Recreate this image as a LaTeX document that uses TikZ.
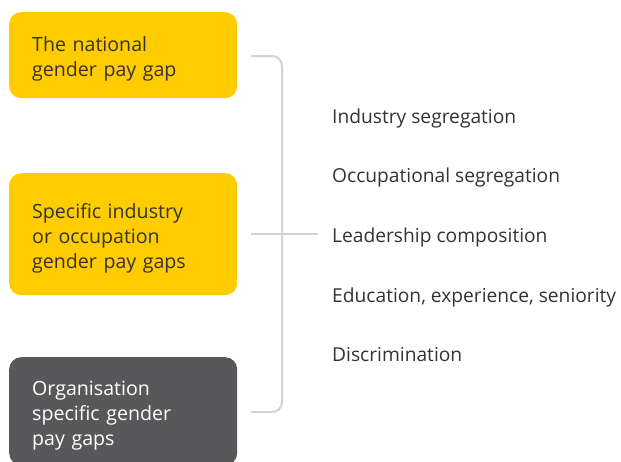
\documentclass[tikz,border=0pt]{standalone}
\usepackage{fontspec}
\setmainfont{Open Sans}
\usepackage{tikz}
\usetikzlibrary{positioning}
\definecolor{gapyellow}{HTML}{FFCC00}
\definecolor{gapgrey}{HTML}{58585A}
\definecolor{gaptext}{HTML}{333333}
\definecolor{gapline}{HTML}{D3D3D3}
\tikzset{
  gapbox/.style={rounded corners=12pt, minimum width=228pt, text width=182pt,
    align=left, inner xsep=23pt, anchor=north west,
    font=\fontsize{19.6}{25}\selectfont,
    execute at begin node={\rule{0pt}{23pt}}},
  factor/.style={anchor=base west, inner sep=0pt, text=gaptext,
    font=\fontsize{19.2}{22}\selectfont},
  bracket/.style={draw=gapline, line width=2pt, rounded corners=10pt}
}

\begin{document}
\begin{tikzpicture}[x=1pt,y=-1pt]
		\useasboundingbox (0,0) rectangle (621,461);
		% boxes on the left
		\node[gapbox, fill=gapyellow, text=gaptext, minimum height=86pt] (national) at (9,12)
			{The national\\gender pay gap};
		\node[gapbox, fill=gapyellow, text=gaptext, minimum height=122pt] (industry) at (9,173)
			{Specific industry\\or occupation\\gender pay gaps};
		\node[gapbox, fill=gapgrey, text=white, minimum height=108pt] (organisation) at (9,357)
			{Organisation\\specific gender\\pay gaps};
		% factors
		\node[factor] (indseg) at (332,123) {Industry segregation};
		\node[factor] (occseg) at (332,182) {Occupational segregation};
		\node[factor] (lead) at (332,242) {Leadership composition};
		\node[factor] (edu) at (332,302) {Education, experience, seniority};
		\node[factor] (discr) at (332,361) {Discrimination};
		% bracket
		\coordinate (btop) at (251,56);
		\coordinate (bbot) at (251,412);
		\coordinate (bmid) at (251,234);
		\draw[bracket] (btop) -| (282,412) -- (bbot);
		\draw[bracket] (bmid) -- (bmid -| lead.west) [shorten >=14pt];
	\end{tikzpicture}
\end{document}
